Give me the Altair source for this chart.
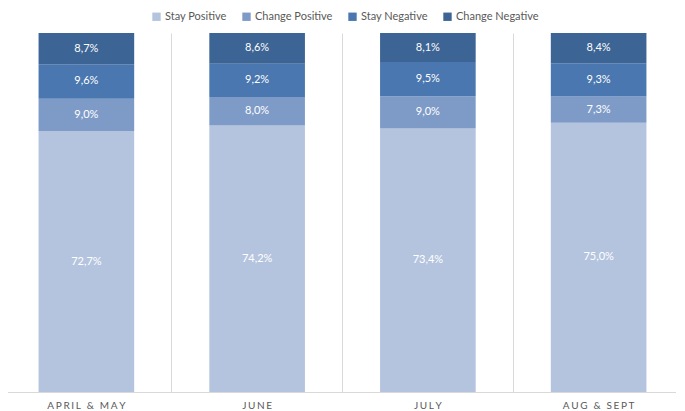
import altair as alt
import pandas as pd

periods = ["APRIL & MAY", "JUNE", "JULY", "AUG & SEPT"]
series = ["Stay Positive", "Change Positive", "Stay Negative", "Change Negative"]
stay_positive = [72.7, 74.2, 73.4, 75.0]
change_positive = [9.0, 8.0, 9.0, 7.3]
stay_negative = [9.6, 9.2, 9.5, 9.3]
change_negative = [8.7, 8.6, 8.1, 8.4]
colors = ["#b4c4de", "#7e9bc8", "#4a77af", "#3c6494"]

rows = []
for i, p in enumerate(periods):
    for j, (s, vals) in enumerate(zip(series, [stay_positive, change_positive, stay_negative, change_negative])):
        rows.append({"period": p, "series": s, "order": j, "value": vals[i],
                     "label": f"{vals[i]:.1f}%".replace(".", ",")})
df = pd.DataFrame(rows)

FONT = "Lato"

base = alt.Chart(df).transform_stack(
    stack="value", groupby=["period"], as_=["y0", "y1"], sort=[{"field": "order", "order": "ascending"}]
).transform_calculate(mid="(datum.y0 + datum.y1) / 2")

x = alt.X("period:N", sort=periods, title=None,
          scale=alt.Scale(paddingInner=0, paddingOuter=0),
          axis=alt.Axis(bandPosition=0, grid=True, gridColor="#d9d9d9", ticks=False,
                        domainColor="#d9d9d9", labelAngle=0, labelColor="#595959",
                        labelFont=FONT, labelFontSize=10, labelPadding=8,
                        labelExpr="join(split(datum.label, ''), '\u2006')"))

bars = base.mark_bar(width=alt.RelativeBandSize(0.56)).encode(
    x=x,
    y=alt.Y("y0:Q", scale=alt.Scale(domain=[0, 100], nice=False, zero=True), title=None,
            axis=alt.Axis(orient="right", labels=False, ticks=False, grid=False,
                          domainColor="#d9d9d9")),
    y2="y1:Q",
    color=alt.Color("series:N", sort=series,
                    scale=alt.Scale(domain=series, range=colors),
                    legend=alt.Legend(title=None, orient="none", direction="horizontal",
                                      legendX=150, legendY=-22, symbolType="square",
                                      symbolSize=70, symbolStrokeWidth=0,
                                      labelFont=FONT, labelFontSize=11, labelColor="#595959",
                                      columnPadding=14, symbolOffset=0, labelOffset=3)),
)

text = base.mark_text(color="white", font=FONT, fontSize=11, baseline="middle").encode(
    x=alt.X("period:N", sort=periods),
    y=alt.Y("mid:Q"),
    text="label:N",
)

chart = alt.layer(bars, text).properties(
    width=683, height=359,
    autosize=alt.AutoSizeParams(type="none"),
    padding={"left": -7, "top": 25, "right": -8, "bottom": 20},
).configure_view(stroke=None)

chart.save("out.html", embed_options={"renderer": "svg", "actions": False})
